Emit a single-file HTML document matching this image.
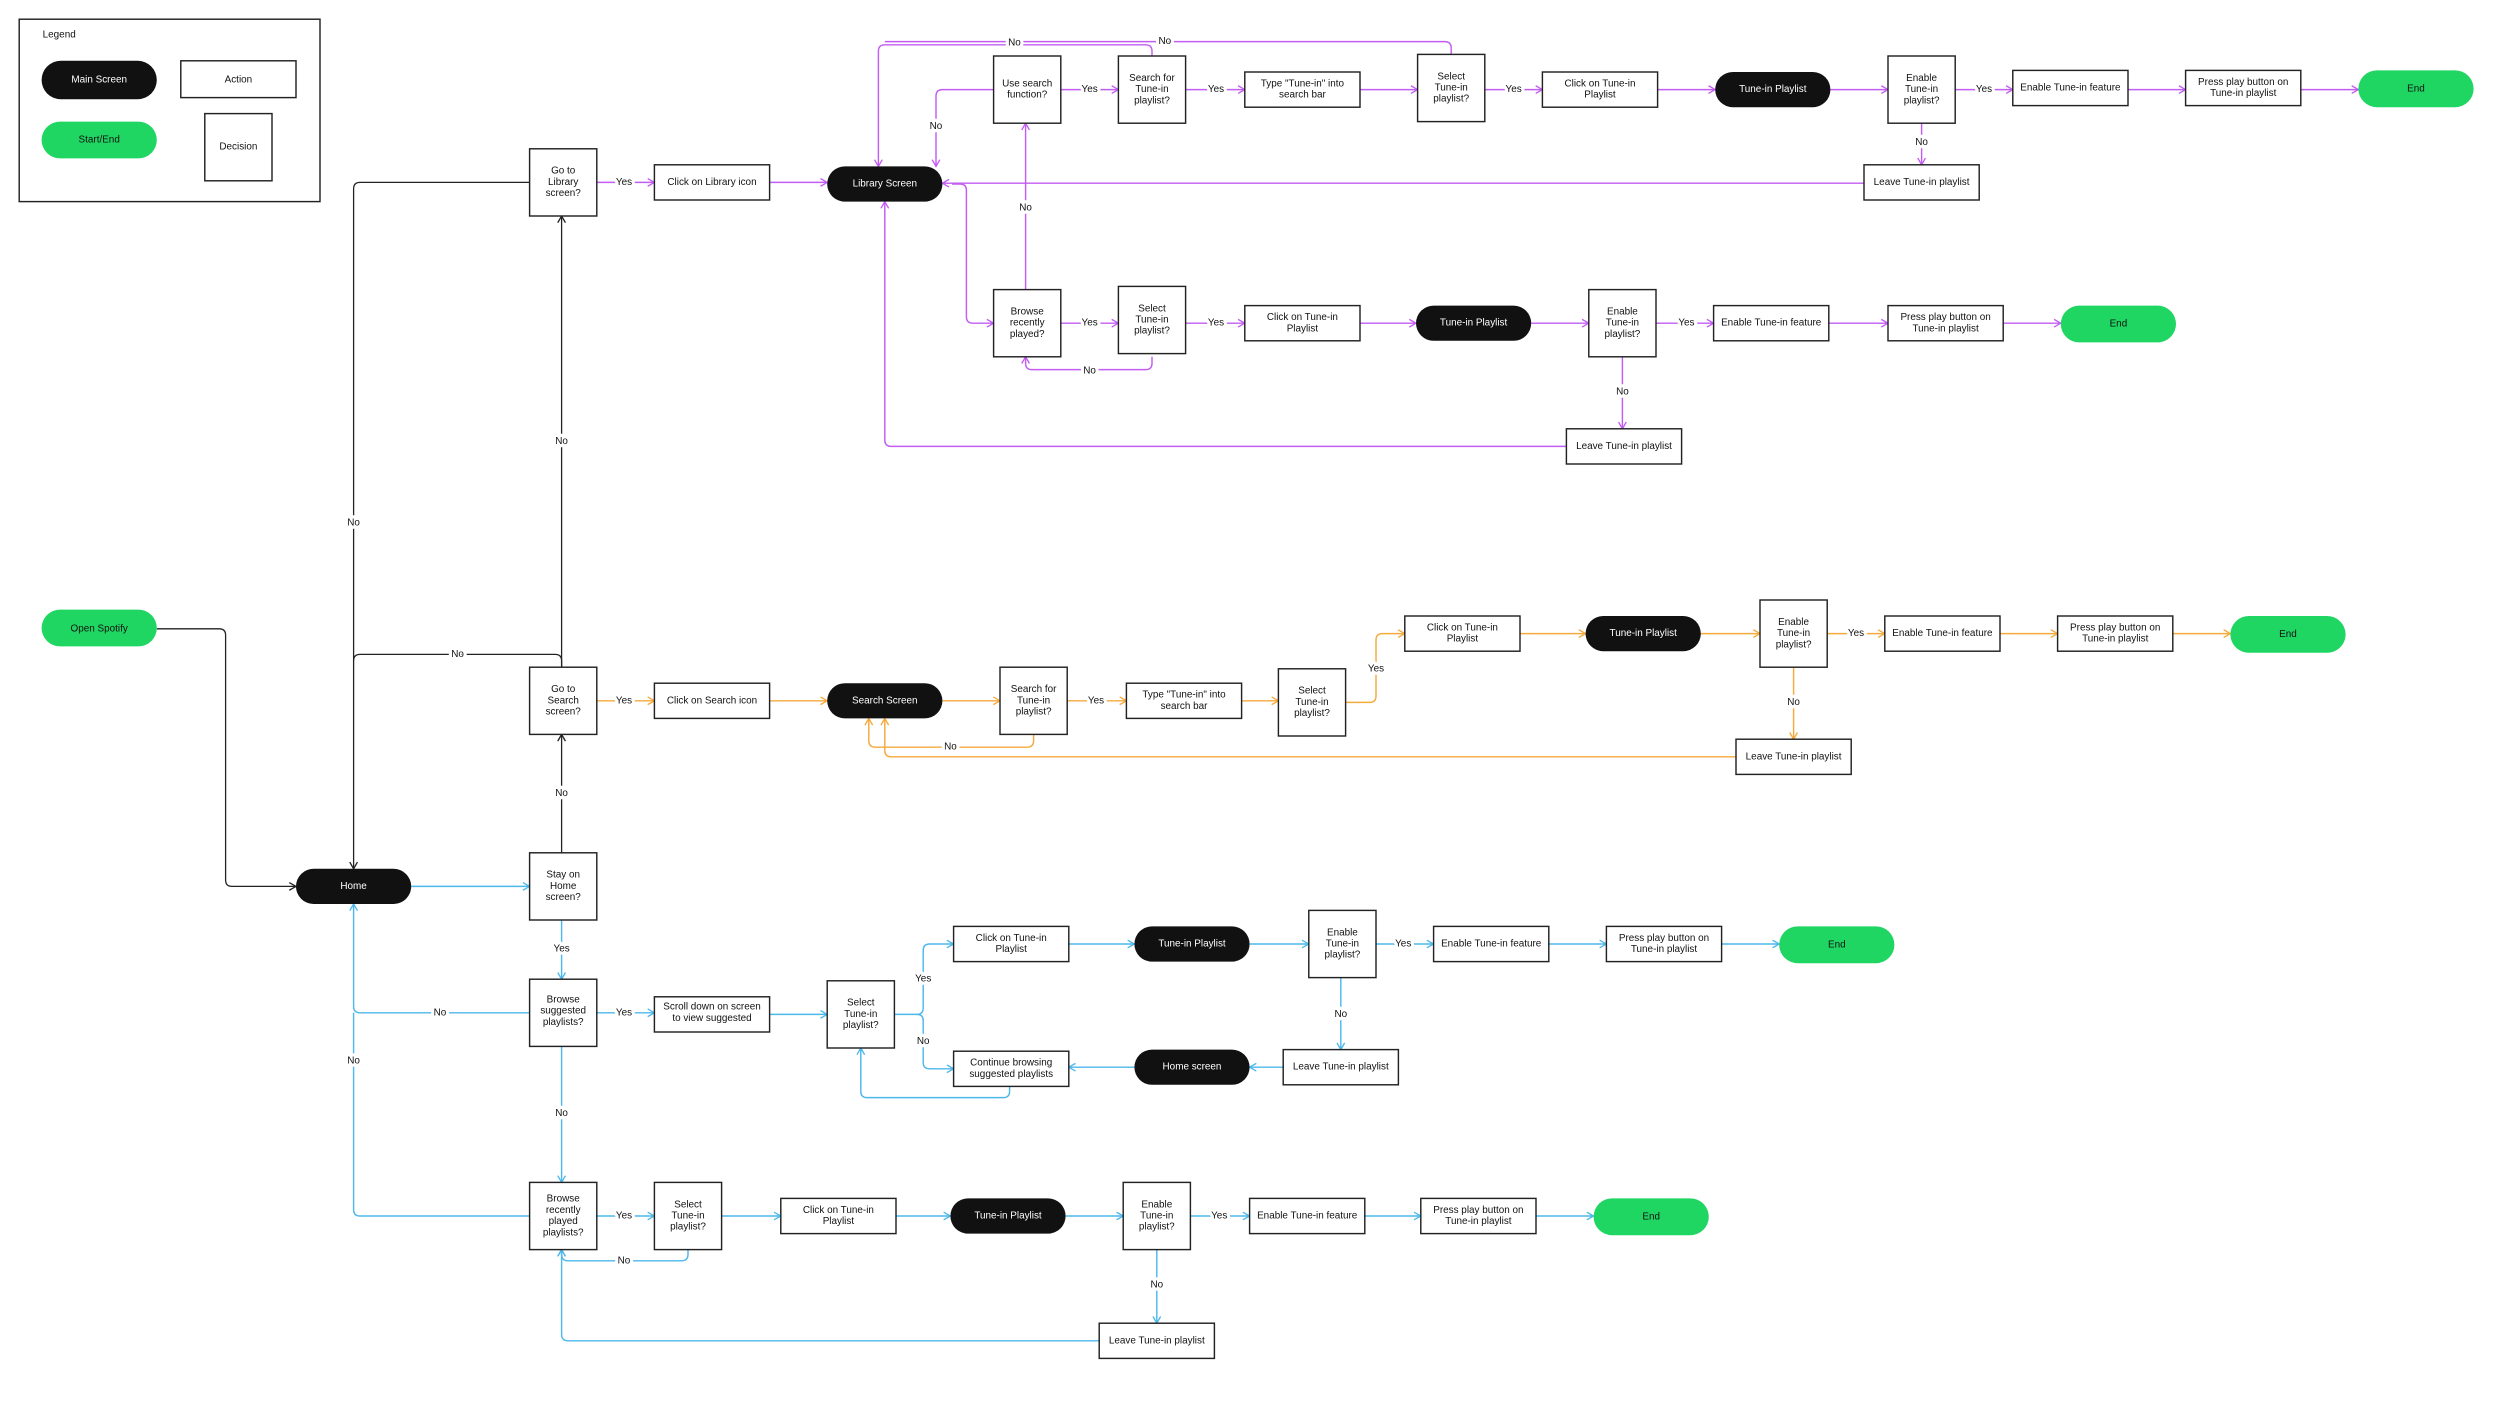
<!DOCTYPE html>
<html><head><meta charset="utf-8">
<style>
html,body{margin:0;padding:0;background:#fff;}
svg{display:block;}
text{font-family:"Liberation Sans",sans-serif;font-size:6.2px;text-anchor:middle;dominant-baseline:central;fill:#111;}
.w{fill:#fff;}
.lb{paint-order:stroke;stroke:#fff;stroke-width:4px;stroke-linejoin:round;}
.box{fill:#fff;stroke:#222;stroke-width:0.9;}
.pill{fill:#111;}
.end{fill:#1fd662;}
.p{fill:none;stroke:#c35cf3;stroke-width:0.9;stroke-linejoin:round;}
.o{fill:none;stroke:#f5aa3c;stroke-width:0.9;stroke-linejoin:round;}
.b{fill:none;stroke:#4db8ec;stroke-width:0.9;stroke-linejoin:round;}
.k{fill:none;stroke:#222;stroke-width:0.8;stroke-linejoin:round;}
</style></head>
<body>
<svg width="2500" height="1412" viewBox="0 0 1562.5 882.5" xmlns="http://www.w3.org/2000/svg">
<defs>
<marker id="mp" viewBox="0 0 10 10" refX="9" refY="5" markerWidth="6" markerHeight="6" orient="auto" markerUnits="userSpaceOnUse"><polyline points="2,1 9,5 2,9" fill="none" stroke="#c35cf3" stroke-width="1.4"/></marker>
<marker id="mo" viewBox="0 0 10 10" refX="9" refY="5" markerWidth="6" markerHeight="6" orient="auto" markerUnits="userSpaceOnUse"><polyline points="2,1 9,5 2,9" fill="none" stroke="#f5aa3c" stroke-width="1.4"/></marker>
<marker id="mb" viewBox="0 0 10 10" refX="9" refY="5" markerWidth="6" markerHeight="6" orient="auto" markerUnits="userSpaceOnUse"><polyline points="2,1 9,5 2,9" fill="none" stroke="#4db8ec" stroke-width="1.4"/></marker>
<marker id="mk" viewBox="0 0 10 10" refX="9" refY="5" markerWidth="6" markerHeight="6" orient="auto" markerUnits="userSpaceOnUse"><polyline points="2,1 9,5 2,9" fill="none" stroke="#222" stroke-width="1.4"/></marker>
</defs>

<!-- Legend -->
<rect x="12" y="12" width="188" height="114" class="box"/>
<text x="37" y="22">Legend</text>
<rect x="26" y="38" width="72" height="24" rx="12" class="pill"/><text x="62" y="50" class="w">Main Screen</text>
<rect x="113" y="38" width="72" height="23" class="box"/><text x="149" y="50">Action</text>
<rect x="26" y="76" width="72" height="23" rx="11.5" class="end"/><text x="62" y="87.5">Start/End</text>
<rect x="128" y="71" width="42" height="42" class="box"/><text x="149" y="92">Decision</text>

<!-- ===== Connectors: black ===== -->
<path class="k" d="M331,114 H225 Q221,114 221,118 V543" marker-end="url(#mk)"/>
<path class="k" d="M351,417 V135" marker-end="url(#mk)"/>
<path class="k" d="M351,417 V413 Q351,409 347,409 H225 Q221,409 221,413"/>
<path class="k" d="M351,533 V459" marker-end="url(#mk)"/>
<path class="k" d="M98,393 H137 Q141,393 141,397 V550 Q141,554 145,554 H185" marker-end="url(#mk)"/>

<!-- ===== Purple ===== -->
<path class="p" d="M373,114 H409" marker-end="url(#mp)"/>
<path class="p" d="M481,114 H517" marker-end="url(#mp)"/>
<path class="p" d="M621,56 H589 Q585,56 585,60 V104" marker-end="url(#mp)"/>
<path class="p" d="M663,56 H699" marker-end="url(#mp)"/>
<path class="p" d="M741,56 H778" marker-end="url(#mp)"/>
<path class="p" d="M850,56 H886" marker-end="url(#mp)"/>
<path class="p" d="M928,56 H964" marker-end="url(#mp)"/>
<path class="p" d="M1036,56 H1072" marker-end="url(#mp)"/>
<path class="p" d="M1144,56 H1180" marker-end="url(#mp)"/>
<path class="p" d="M1222,56 H1258" marker-end="url(#mp)"/>
<path class="p" d="M1330,56 H1366" marker-end="url(#mp)"/>
<path class="p" d="M1438,56 H1474" marker-end="url(#mp)"/>
<path class="p" d="M720,35 V32 Q720,28 716,28 H553 Q549,28 549,32 V104" marker-end="url(#mp)"/>
<path class="p" d="M907,34 V30 Q907,26 903,26 H553"/>
<path class="p" d="M1201,77 V103" marker-end="url(#mp)"/>
<path class="p" d="M1165,114.5 H589" marker-end="url(#mp)"/>
<path class="p" d="M595,115 H600 Q604,115 604,119 V198 Q604,202 608,202 H621" marker-end="url(#mp)"/>
<path class="p" d="M641,181 V77" marker-end="url(#mp)"/>
<path class="p" d="M663,202 H699" marker-end="url(#mp)"/>
<path class="p" d="M741,202 H778" marker-end="url(#mp)"/>
<path class="p" d="M850,202 H885" marker-end="url(#mp)"/>
<path class="p" d="M957,202 H993" marker-end="url(#mp)"/>
<path class="p" d="M1035,202 H1071" marker-end="url(#mp)"/>
<path class="p" d="M1143,202 H1180" marker-end="url(#mp)"/>
<path class="p" d="M1252,202 H1288" marker-end="url(#mp)"/>
<path class="p" d="M720,223 V227 Q720,231 716,231 H645 Q641,231 641,227 V223" marker-end="url(#mp)"/>
<path class="p" d="M1014,223 V268" marker-end="url(#mp)"/>
<path class="p" d="M979,279 H557 Q553,279 553,275 V126" marker-end="url(#mp)"/>

<!-- ===== Orange ===== -->
<path class="o" d="M373,438 H409" marker-end="url(#mo)"/>
<path class="o" d="M481,438 H517" marker-end="url(#mo)"/>
<path class="o" d="M589,438 H625" marker-end="url(#mo)"/>
<path class="o" d="M667,438 H704" marker-end="url(#mo)"/>
<path class="o" d="M776,438 H799" marker-end="url(#mo)"/>
<path class="o" d="M841,439 H856 Q860,439 860,435 V400 Q860,396 864,396 H878" marker-end="url(#mo)"/>
<path class="o" d="M950,396 H991" marker-end="url(#mo)"/>
<path class="o" d="M1063,396 H1100" marker-end="url(#mo)"/>
<path class="o" d="M1142,396 H1178" marker-end="url(#mo)"/>
<path class="o" d="M1250,396 H1286" marker-end="url(#mo)"/>
<path class="o" d="M1358,396 H1394" marker-end="url(#mo)"/>
<path class="o" d="M1121,417 V462" marker-end="url(#mo)"/>
<path class="o" d="M1085,473 H557 Q553,473 553,469 V449" marker-end="url(#mo)"/>
<path class="o" d="M646,459 V463 Q646,467 642,467 H547 Q543,467 543,463 V449" marker-end="url(#mo)"/>

<!-- ===== Blue ===== -->
<path class="b" d="M257,554 H331" marker-end="url(#mb)"/>
<path class="b" d="M351,575 V612" marker-end="url(#mb)"/>
<path class="b" d="M331,633 H225 Q221,633 221,629 V565" marker-end="url(#mb)"/>
<path class="b" d="M373,633 H409" marker-end="url(#mb)"/>
<path class="b" d="M481,634 H517" marker-end="url(#mb)"/>
<path class="b" d="M559,634 H573 Q577,634 577,630 V594 Q577,590 581,590 H596" marker-end="url(#mb)"/>
<path class="b" d="M573,634 Q577,634 577,638 V664 Q577,668 581,668 H596" marker-end="url(#mb)"/>
<path class="b" d="M668,590 H709" marker-end="url(#mb)"/>
<path class="b" d="M781,590 H818" marker-end="url(#mb)"/>
<path class="b" d="M860,590 H896" marker-end="url(#mb)"/>
<path class="b" d="M968,590 H1004" marker-end="url(#mb)"/>
<path class="b" d="M1076,590 H1112" marker-end="url(#mb)"/>
<path class="b" d="M838,611 V656" marker-end="url(#mb)"/>
<path class="b" d="M802,667 H781" marker-end="url(#mb)"/>
<path class="b" d="M709,667 H668" marker-end="url(#mb)"/>
<path class="b" d="M631,679 V682 Q631,686 627,686 H542 Q538,686 538,682 V655" marker-end="url(#mb)"/>
<path class="b" d="M351,654 V739" marker-end="url(#mb)"/>
<path class="b" d="M331,760 H225 Q221,760 221,756 V633"/>
<path class="b" d="M373,760 H409" marker-end="url(#mb)"/>
<path class="b" d="M451,760 H488" marker-end="url(#mb)"/>
<path class="b" d="M560,760 H594" marker-end="url(#mb)"/>
<path class="b" d="M666,760 H702" marker-end="url(#mb)"/>
<path class="b" d="M744,760 H781" marker-end="url(#mb)"/>
<path class="b" d="M853,760 H888" marker-end="url(#mb)"/>
<path class="b" d="M960,760 H996" marker-end="url(#mb)"/>
<path class="b" d="M430,781 V784 Q430,788 426,788 H355 Q351,788 351,784 V781" marker-end="url(#mb)"/>
<path class="b" d="M723,781 V827" marker-end="url(#mb)"/>
<path class="b" d="M687,838 H355 Q351,838 351,834 V781" marker-end="url(#mb)"/>

<!-- ===== Labels ===== -->
<g class="lb">
<text x="221" y="327" class="lb">No</text>
<text x="351" y="276" class="lb">No</text>
<text x="286" y="409" class="lb">No</text>
<text x="351" y="496" class="lb">No</text>
<text x="390" y="114" class="lb">Yes</text>
<text x="585" y="79" class="lb">No</text>
<text x="681" y="56" class="lb">Yes</text>
<text x="760" y="56" class="lb">Yes</text>
<text x="946" y="56" class="lb">Yes</text>
<text x="1240" y="56" class="lb">Yes</text>
<text x="634" y="27" class="lb">No</text>
<text x="728" y="26" class="lb">No</text>
<text x="1201" y="89" class="lb">No</text>
<text x="641" y="130" class="lb">No</text>
<text x="681" y="202" class="lb">Yes</text>
<text x="760" y="202" class="lb">Yes</text>
<text x="1054" y="202" class="lb">Yes</text>
<text x="681" y="232" class="lb">No</text>
<text x="1014" y="245" class="lb">No</text>
<text x="390" y="438" class="lb">Yes</text>
<text x="685" y="438" class="lb">Yes</text>
<text x="860" y="418" class="lb">Yes</text>
<text x="1160" y="396" class="lb">Yes</text>
<text x="1121" y="439" class="lb">No</text>
<text x="594" y="467" class="lb">No</text>
<text x="351" y="593" class="lb">Yes</text>
<text x="275" y="633" class="lb">No</text>
<text x="390" y="633" class="lb">Yes</text>
<text x="577" y="612" class="lb">Yes</text>
<text x="577" y="651" class="lb">No</text>
<text x="877" y="590" class="lb">Yes</text>
<text x="838" y="634" class="lb">No</text>
<text x="351" y="696" class="lb">No</text>
<text x="221" y="663" class="lb">No</text>
<text x="390" y="760" class="lb">Yes</text>
<text x="762" y="760" class="lb">Yes</text>
<text x="390" y="788" class="lb">No</text>
<text x="723" y="803" class="lb">No</text>
</g>

<!-- ===== Nodes ===== -->
<!-- Left column -->
<rect x="331" y="93" width="42" height="42" class="box"/>
<text x="352" y="107">Go to</text><text x="352" y="114">Library</text><text x="352" y="121">screen?</text>
<rect x="409" y="103" width="72" height="22" class="box"/><text x="445" y="114">Click on Library icon</text>
<rect x="517" y="104" width="72" height="22" rx="11" class="pill"/><text x="553" y="115" class="w">Library Screen</text>

<rect x="331" y="417" width="42" height="42" class="box"/>
<text x="352" y="431">Go to</text><text x="352" y="438">Search</text><text x="352" y="445">screen?</text>
<rect x="409" y="427" width="72" height="22" class="box"/><text x="445" y="438">Click on Search icon</text>
<rect x="517" y="427" width="72" height="22" rx="11" class="pill"/><text x="553" y="438" class="w">Search Screen</text>

<rect x="26" y="381" width="72" height="23" rx="11.5" class="end"/><text x="62" y="393">Open Spotify</text>
<rect x="185" y="543" width="72" height="22" rx="11" class="pill"/><text x="221" y="554" class="w">Home</text>
<rect x="331" y="533" width="42" height="42" class="box"/>
<text x="352" y="547">Stay on</text><text x="352" y="554">Home</text><text x="352" y="561">screen?</text>

<rect x="331" y="612" width="42" height="42" class="box"/>
<text x="352" y="625">Browse</text><text x="352" y="632">suggested</text><text x="352" y="639">playlists?</text>
<rect x="409" y="623" width="72" height="22" class="box"/>
<text x="445" y="629.5">Scroll down on screen</text><text x="445" y="636.5">to view suggested</text>
<rect x="517" y="613" width="42" height="42" class="box"/>
<text x="538" y="627">Select</text><text x="538" y="634">Tune-in</text><text x="538" y="641">playlist?</text>
<rect x="596" y="579" width="72" height="22" class="box"/>
<text x="632" y="586.5">Click on Tune-in</text><text x="632" y="593.5">Playlist</text>
<rect x="709" y="579" width="72" height="22" rx="11" class="pill"/><text x="745" y="590" class="w">Tune-in Playlist</text>
<rect x="818" y="569" width="42" height="42" class="box"/>
<text x="839" y="583">Enable</text><text x="839" y="590">Tune-in</text><text x="839" y="597">playlist?</text>
<rect x="896" y="579" width="72" height="22" class="box"/><text x="932" y="590">Enable Tune-in feature</text>
<rect x="1004" y="579" width="72" height="22" class="box"/>
<text x="1040" y="586.5">Press play button on</text><text x="1040" y="593.5">Tune-in playlist</text>
<rect x="1112" y="579" width="72" height="23" rx="11.5" class="end"/><text x="1148" y="590.5">End</text>
<rect x="802" y="656" width="72" height="22" class="box"/><text x="838" y="667">Leave Tune-in playlist</text>
<rect x="709" y="656" width="72" height="22" rx="11" class="pill"/><text x="745" y="667" class="w">Home screen</text>
<rect x="596" y="657" width="72" height="22" class="box"/>
<text x="632" y="664.5">Continue browsing</text><text x="632" y="671.5">suggested playlists</text>

<rect x="331" y="739" width="42" height="42" class="box"/>
<text x="352" y="749.5">Browse</text><text x="352" y="756.5">recently</text><text x="352" y="763.5">played</text><text x="352" y="770.5">playlists?</text>
<rect x="409" y="739" width="42" height="42" class="box"/>
<text x="430" y="753">Select</text><text x="430" y="760">Tune-in</text><text x="430" y="767">playlist?</text>
<rect x="488" y="749" width="72" height="22" class="box"/>
<text x="524" y="756.5">Click on Tune-in</text><text x="524" y="763.5">Playlist</text>
<rect x="594" y="749" width="72" height="22" rx="11" class="pill"/><text x="630" y="760" class="w">Tune-in Playlist</text>
<rect x="702" y="739" width="42" height="42" class="box"/>
<text x="723" y="753">Enable</text><text x="723" y="760">Tune-in</text><text x="723" y="767">playlist?</text>
<rect x="781" y="749" width="72" height="22" class="box"/><text x="817" y="760">Enable Tune-in feature</text>
<rect x="888" y="749" width="72" height="22" class="box"/>
<text x="924" y="756.5">Press play button on</text><text x="924" y="763.5">Tune-in playlist</text>
<rect x="996" y="749" width="72" height="23" rx="11.5" class="end"/><text x="1032" y="760.5">End</text>
<rect x="687" y="827" width="72" height="22" class="box"/><text x="723" y="838">Leave Tune-in playlist</text>

<!-- Search row -->
<rect x="625" y="417" width="42" height="42" class="box"/>
<text x="646" y="431">Search for</text><text x="646" y="438">Tune-in</text><text x="646" y="445">playlist?</text>
<rect x="704" y="427" width="72" height="22" class="box"/>
<text x="740" y="434.5">Type "Tune-in" into</text><text x="740" y="441.5">search bar</text>
<rect x="799" y="418" width="42" height="42" class="box"/>
<text x="820" y="432">Select</text><text x="820" y="439">Tune-in</text><text x="820" y="446">playlist?</text>
<rect x="878" y="385" width="72" height="22" class="box"/>
<text x="914" y="392.5">Click on Tune-in</text><text x="914" y="399.5">Playlist</text>
<rect x="991" y="385" width="72" height="22" rx="11" class="pill"/><text x="1027" y="396" class="w">Tune-in Playlist</text>
<rect x="1100" y="375" width="42" height="42" class="box"/>
<text x="1121" y="389">Enable</text><text x="1121" y="396">Tune-in</text><text x="1121" y="403">playlist?</text>
<rect x="1178" y="385" width="72" height="22" class="box"/><text x="1214" y="396">Enable Tune-in feature</text>
<rect x="1286" y="385" width="72" height="22" class="box"/>
<text x="1322" y="392.5">Press play button on</text><text x="1322" y="399.5">Tune-in playlist</text>
<rect x="1394" y="385" width="72" height="23" rx="11.5" class="end"/><text x="1430" y="396.5">End</text>
<rect x="1085" y="462" width="72" height="22" class="box"/><text x="1121" y="473">Leave Tune-in playlist</text>

<!-- Library top row -->
<rect x="621" y="35" width="42" height="42" class="box"/>
<text x="642" y="52.5">Use search</text><text x="642" y="59.5">function?</text>
<rect x="699" y="35" width="42" height="42" class="box"/>
<text x="720" y="49">Search for</text><text x="720" y="56">Tune-in</text><text x="720" y="63">playlist?</text>
<rect x="778" y="45" width="72" height="22" class="box"/>
<text x="814" y="52.5">Type "Tune-in" into</text><text x="814" y="59.5">search bar</text>
<rect x="886" y="34" width="42" height="42" class="box"/>
<text x="907" y="48">Select</text><text x="907" y="55">Tune-in</text><text x="907" y="62">playlist?</text>
<rect x="964" y="45" width="72" height="22" class="box"/>
<text x="1000" y="52.5">Click on Tune-in</text><text x="1000" y="59.5">Playlist</text>
<rect x="1072" y="45" width="72" height="22" rx="11" class="pill"/><text x="1108" y="56" class="w">Tune-in Playlist</text>
<rect x="1180" y="35" width="42" height="42" class="box"/>
<text x="1201" y="49">Enable</text><text x="1201" y="56">Tune-in</text><text x="1201" y="63">playlist?</text>
<rect x="1258" y="44" width="72" height="22" class="box"/><text x="1294" y="55">Enable Tune-in feature</text>
<rect x="1366" y="44" width="72" height="22" class="box"/>
<text x="1402" y="51.5">Press play button on</text><text x="1402" y="58.5">Tune-in playlist</text>
<rect x="1474" y="44" width="72" height="23" rx="11.5" class="end"/><text x="1510" y="55.5">End</text>
<rect x="1165" y="103" width="72" height="22" class="box"/><text x="1201" y="114">Leave Tune-in playlist</text>

<!-- Library bottom row -->
<rect x="621" y="181" width="42" height="42" class="box"/>
<text x="642" y="195">Browse</text><text x="642" y="202">recently</text><text x="642" y="209">played?</text>
<rect x="699" y="179" width="42" height="42" class="box"/>
<text x="720" y="193">Select</text><text x="720" y="200">Tune-in</text><text x="720" y="207">playlist?</text>
<rect x="778" y="191" width="72" height="22" class="box"/>
<text x="814" y="198.5">Click on Tune-in</text><text x="814" y="205.5">Playlist</text>
<rect x="885" y="191" width="72" height="22" rx="11" class="pill"/><text x="921" y="202" class="w">Tune-in Playlist</text>
<rect x="993" y="181" width="42" height="42" class="box"/>
<text x="1014" y="195">Enable</text><text x="1014" y="202">Tune-in</text><text x="1014" y="209">playlist?</text>
<rect x="1071" y="191" width="72" height="22" class="box"/><text x="1107" y="202">Enable Tune-in feature</text>
<rect x="1180" y="191" width="72" height="22" class="box"/>
<text x="1216" y="198.5">Press play button on</text><text x="1216" y="205.5">Tune-in playlist</text>
<rect x="1288" y="191" width="72" height="23" rx="11.5" class="end"/><text x="1324" y="202.5">End</text>
<rect x="979" y="268" width="72" height="22" class="box"/><text x="1015" y="279">Leave Tune-in playlist</text>
</svg>
</body></html>
